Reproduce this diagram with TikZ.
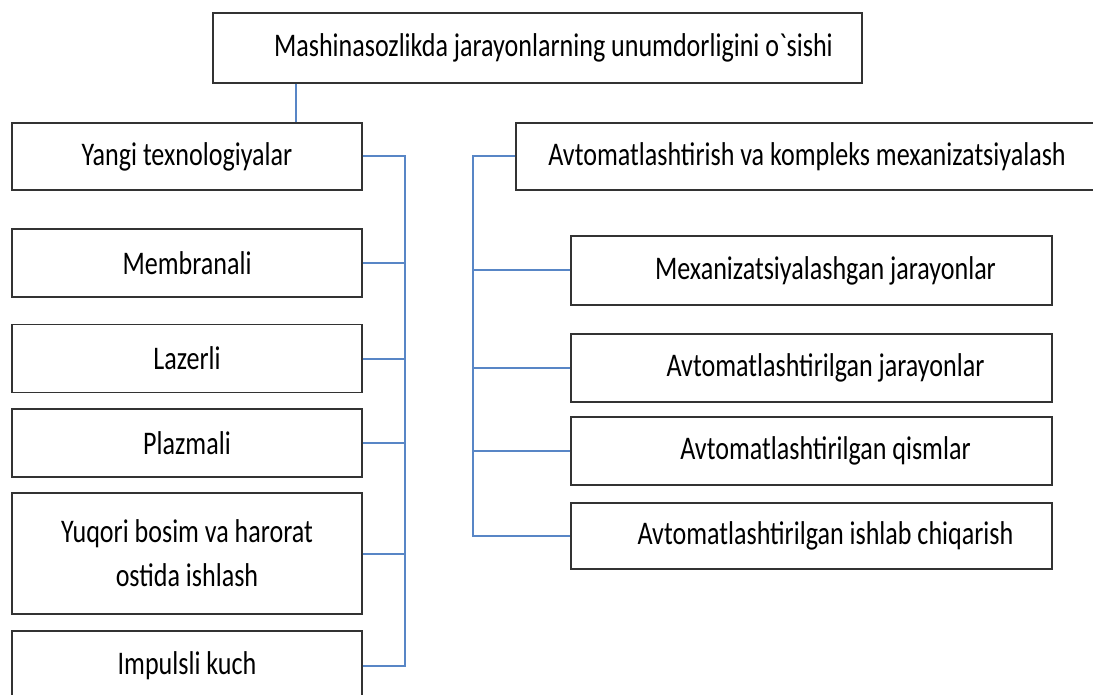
\documentclass[tikz,border=0pt]{standalone}
\usepackage{fontspec}
\setmainfont{Carlito}[FakeStretch=0.79, Ligatures=TeXOff]
\definecolor{linkblue}{RGB}{88,134,198}
\tikzset{
  box/.style={draw=black!80, line width=1.4pt, fill=white, inner sep=0pt, align=center,
              minimum width=#1, minimum height=68pt, font=\fontsize{33}{44}\selectfont},
  box/.default=350pt,
  rbox/.style={box=481pt, execute at begin node={\hspace*{28pt}}},
  link/.style={draw=linkblue, line width=2pt},
}

\begin{document}
\begin{tikzpicture}[x=1pt, y=-1pt]
  \useasboundingbox (0,0) rectangle (1093,695);
  \clip (0,0) rectangle (1093,695);
  \coordinate (stem) at (296,0);
  \coordinate (lbus) at (405,0);
  \coordinate (rbus) at (473,0);
  % root
  \node[box=649pt, minimum height=70pt, execute at begin node={\hspace*{32pt}}] (root) at (537.5,48)
    {Mashinasozlikda jarayonlarning unumdorligini o`sishi};
  % left column
  \node[box, minimum height=67pt] (yangi) at (187,156.5) {Yangi texnologiyalar};
  \node[box] (memb) at (187,263) {Membranali};
  \node[box] (laz) at (187,358.5) {Lazerli};
  \node[box] (plaz) at (187,443) {Plazmali};
  \node[box, minimum height=121pt] (yuq) at (187,553.5) {Yuqori bosim va harorat\\ostida ishlash};
  \node[box, minimum height=69pt] (imp) at (187,665.5) {Impulsli kuch};
  % right column
  \node[box=582pt, minimum height=67pt] (avt) at (807,156.5)
    {Avtomatlashtirish va kompleks mexanizatsiyalash};
  \node[rbox, minimum height=69pt] (mex) at (811.5,270.5) {Mexanizatsiyalashgan jarayonlar};
  \node[rbox] (ajar) at (811.5,368) {Avtomatlashtirilgan jarayonlar};
  \node[rbox] (qism) at (811.5,451) {Avtomatlashtirilgan qismlar};
  \node[rbox, minimum height=66pt] (ishl) at (811.5,536) {Avtomatlashtirilgan ishlab chiqarish};
  % connectors
  \draw[link] (root.south -| stem) -- (yangi.north -| stem);
  \draw[link] (yangi.east) -- (yangi.east -| lbus) -- (imp.east -| lbus) -- (imp.east);
  \foreach \n in {memb,laz,plaz,yuq}
    \draw[link] (\n.east) -- (\n.east -| lbus);
  \draw[link] (avt.west) -- (avt.west -| rbus) -- (ishl.west -| rbus) -- (ishl.west);
  \foreach \n in {mex,ajar,qism}
    \draw[link] (\n.west) -- (\n.west -| rbus);
\end{tikzpicture}
\end{document}
